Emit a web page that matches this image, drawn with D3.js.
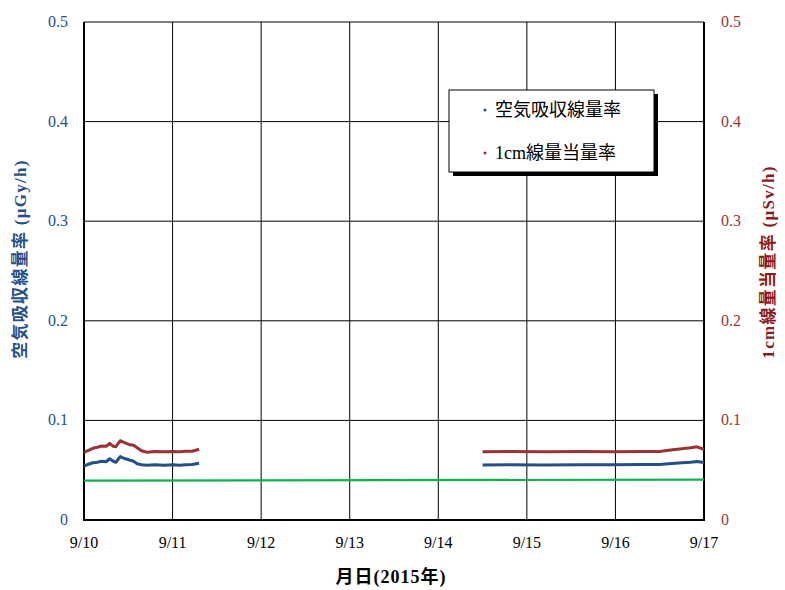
<!DOCTYPE html>
<html><head><meta charset="utf-8">
<script src="https://cdn.jsdelivr.net/npm/d3@7"></script>
<style>body{margin:0;background:#fff;}svg{display:block;}</style>
</head><body>
<script>
// Data: day offset from 2015-09-10 00:00, value
const xTickLabels = ["9/10","9/11","9/12","9/13","9/14","9/15","9/16","9/17"];
const yTicks = [0, 0.1, 0.2, 0.3, 0.4, 0.5];
const yTickLabels = ["0","0.1","0.2","0.3","0.4","0.5"];
const airSeg1Days = [0.00,0.05,0.10,0.15,0.20,0.25,0.29,0.33,0.36,0.41,0.45,0.52,0.56,0.60,0.65,0.71,0.80,0.90,1.00,1.08,1.15,1.22,1.30];
const airSeg1 = [0.054,0.056,0.0575,0.058,0.059,0.0585,0.0615,0.059,0.058,0.0636,0.062,0.060,0.059,0.0565,0.0555,0.055,0.0555,0.055,0.0555,0.055,0.0555,0.0558,0.057];
const doseSeg1 = [0.068,0.070,0.072,0.073,0.0743,0.074,0.077,0.074,0.0736,0.0796,0.078,0.0755,0.075,0.0725,0.0695,0.068,0.0688,0.0686,0.0688,0.0686,0.069,0.069,0.071];
const seg2Days = [4.50,4.80,5.20,5.60,6.00,6.30,6.50,6.60,6.75,6.85,6.92,7.00];
const airSeg2 = [0.0552,0.0555,0.0553,0.0555,0.0555,0.0556,0.0558,0.0565,0.0575,0.058,0.0588,0.0578];
const doseSeg2 = [0.0686,0.0688,0.0686,0.0688,0.0686,0.0688,0.0688,0.070,0.0715,0.0725,0.0735,0.071];
const refDays = [0, 7];
const refValues = [0.0395, 0.0405];
const seriesNames = ["空気吸収線量率", "1cm線量当量率"];

const W = 785, H = 590;
const L = 84, R = 704, T = 22, B = 520;
const blue = "#254F88", red = "#9A3434", green = "#12B04F";
const svg = d3.select("body").append("svg").attr("width", W).attr("height", H);
const x = d3.scaleLinear().domain([0, 7]).range([L, R]);
const y = d3.scaleLinear().domain([0, 0.5]).range([B, T]);
const fontNum = "'Liberation Serif','Times New Roman',serif";
const fontCJK = "'Liberation Serif','Noto Sans CJK JP',serif";

// grid
const g = svg.append("g");
g.selectAll(".hg").data(yTicks).enter().append("line")
  .attr("x1", L).attr("x2", R).attr("y1", d => y(d)).attr("y2", d => y(d))
  .attr("stroke", "#000").attr("stroke-width", 1);
g.selectAll(".vg").data(d3.range(0, 8)).enter().append("line")
  .attr("x1", d => x(d)).attr("x2", d => x(d)).attr("y1", T).attr("y2", B)
  .attr("stroke", "#000").attr("stroke-width", 1);
// frame
svg.append("line").attr("x1", L).attr("x2", L).attr("y1", T).attr("y2", B).attr("stroke", "#000").attr("stroke-width", 2);
svg.append("line").attr("x1", R).attr("x2", R).attr("y1", T).attr("y2", B).attr("stroke", "#000").attr("stroke-width", 2);
svg.append("line").attr("x1", L-1).attr("x2", R+1).attr("y1", B).attr("y2", B).attr("stroke", "#000").attr("stroke-width", 2);

// lines
const line = d3.line().x(d => x(d[0])).y(d => y(d[1]));
function draw(days, vals, color, w) {
  svg.append("path").datum(days.map((d, i) => [d, vals[i]]))
    .attr("d", line).attr("fill", "none").attr("stroke", color).attr("stroke-width", w)
    .attr("stroke-linejoin", "round");
}
draw(refDays, refValues, green, 2.2);
draw(airSeg1Days, airSeg1, blue, 3);
draw(airSeg1Days, doseSeg1, red, 3);
draw(seg2Days, airSeg2, blue, 3);
draw(seg2Days, doseSeg2, red, 3);

// tick labels
svg.selectAll(".yl").data(yTicks).enter().append("text")
  .attr("x", 68).attr("y", d => y(d) + 5).attr("text-anchor", "end")
  .attr("font-family", fontNum).attr("font-size", 16).attr("fill", blue)
  .text((d, i) => yTickLabels[i]);
svg.selectAll(".yr").data(yTicks).enter().append("text")
  .attr("x", 721).attr("y", d => y(d) + 5).attr("text-anchor", "start")
  .attr("font-family", fontNum).attr("font-size", 16).attr("fill", red)
  .text((d, i) => yTickLabels[i]);
svg.selectAll(".xl").data(xTickLabels).enter().append("text")
  .attr("x", (d, i) => x(i)).attr("y", 548).attr("text-anchor", "middle")
  .attr("font-family", fontNum).attr("font-size", 16).attr("fill", "#000")
  .text(d => d);

// axis titles
svg.append("text").attr("transform", "translate(26,259) rotate(-90)")
  .attr("text-anchor", "middle").attr("font-family", fontCJK).attr("font-size", 17)
  .attr("letter-spacing", 1.3)
  .attr("font-weight", "bold").attr("fill", blue).text("空気吸収線量率 (μGy/h)");
svg.append("text").attr("transform", "translate(774,262) rotate(-90)")
  .attr("text-anchor", "middle").attr("font-family", fontCJK).attr("font-size", 17)
  .attr("letter-spacing", 1.3)
  .attr("font-weight", "bold").attr("fill", "#8B1A1A").text("1cm線量当量率 (μSv/h)");
svg.append("text").attr("x", 391).attr("y", 583).attr("text-anchor", "middle")
  .attr("font-family", fontCJK).attr("font-size", 18).attr("font-weight", "bold")
  .attr("letter-spacing", 1)
  .attr("fill", "#000").text("月日(2015年)");

// legend
const lg = svg.append("g");
lg.append("rect").attr("x", 453).attr("y", 94).attr("width", 205).attr("height", 82).attr("fill", "#000");
lg.append("rect").attr("x", 449).attr("y", 90).attr("width", 205).attr("height", 82)
  .attr("fill", "#fff").attr("stroke", "#000").attr("stroke-width", 1);
const legColors = [blue, red];
seriesNames.forEach((n, i) => {
  const yy = 110 + i * 43;
  lg.append("circle").attr("cx", 485).attr("cy", yy).attr("r", 1.5).attr("fill", legColors[i]);
  lg.append("text").attr("x", 495).attr("y", yy + 6).attr("font-family", fontCJK)
    .attr("font-size", 18).attr("fill", "#000").text(n);
});
</script>
</body></html>
